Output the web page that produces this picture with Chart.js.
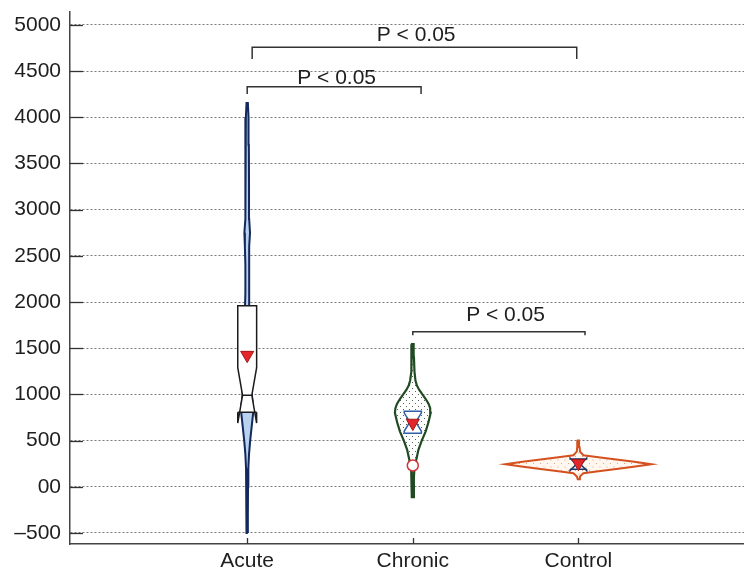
<!DOCTYPE html>
<html>
<head>
<meta charset="utf-8">
<script src="https://cdn.jsdelivr.net/npm/chart.js@4.4.1/dist/chart.umd.min.js"></script>
<style>
  html, body { margin: 0; padding: 0; background: #fff; overflow: hidden; }
  #c { display: block; }
</style>
</head>
<body>
<canvas id="c" width="744" height="571"></canvas>
<script>
// categories and axis ticks
const categories = ['Acute', 'Chronic', 'Control'];
const yTicks = [-500, 0, 500, 1000, 1500, 2000, 2500, 3000, 3500, 4000, 4500, 5000];

// violin profiles: value levels and half-width (density, in category units)
const acuteLevels = [-500, -300, 0, 200, 350, 500, 600, 700, 800, 900, 1000, 1500, 1900, 2100, 2400, 2600, 2750, 2900, 3300, 3700, 4000, 4155];
const acuteWidth  = [0.004, 0.004, 0.005, 0.007, 0.011, 0.018, 0.024, 0.030, 0.036, 0.034, 0.028, 0.028, 0.014, 0.011, 0.011, 0.014, 0.017, 0.012, 0.011, 0.010, 0.008, 0.004];

const chronicLevels = [-114, 0, 100, 200, 250, 300, 400, 500, 600, 700, 800, 850, 900, 950, 1000, 1050, 1100, 1150, 1250, 1400, 1544];
const chronicWidth  = [0.005, 0.006, 0.007, 0.010, 0.016, 0.022, 0.034, 0.054, 0.078, 0.095, 0.108, 0.105, 0.095, 0.078, 0.058, 0.038, 0.024, 0.016, 0.010, 0.007, 0.005];

const controlLevels = [80, 110, 146, 170, 195, 220, 244, 270, 300, 320, 341, 380, 430, 500];
const controlWidth  = [0.004, 0.009, 0.030, 0.133, 0.241, 0.344, 0.440, 0.338, 0.205, 0.121, 0.030, 0.010, 0.007, 0.004];

// notched box summaries per category
const boxQ1      = [807, 580, 190];
const boxMedian  = [990, 700, 240];
const boxQ3      = [1960, 818, 300];
const notchLow   = [690, 600, 175];
const notchHigh  = [1290, 800, 310];
const groupMeans = [1425, 690, 255];
const chronicMarker = [230];

// significance brackets
const bracketFrom  = [1.03, 1.0, 2.0];
const bracketTo    = [2.99, 2.05, 3.04];
const bracketLevel = [4758, 4332, 1677];
const bracketFoot  = [4632, 4252, 1640];
const bracketText  = ['P < 0.05', 'P < 0.05', 'P < 0.05'];
const bracketTextX = [2.02, 1.54, 2.56];
const bracketTextY = [4890, 4425, 1858];

const FONT = '"Liberation Sans", Arial, Helvetica, sans-serif';
const ctx0 = document.getElementById('c').getContext('2d');

function dotPattern(bg, dot, step) {
    const c = document.createElement('canvas');
    c.width = step; c.height = step;
    const g = c.getContext('2d');
    g.fillStyle = bg;
    g.fillRect(0, 0, step, step);
    g.fillStyle = dot;
    g.fillRect(1, 1, 1, 1);
    g.fillRect(step / 2 + 1, step / 2 + 1, 1, 1);
    return ctx0.createPattern(c, 'repeat');
}

function violin(center, levels, widths) {
    const right = levels.map((v, i) => ({ x: center + widths[i], y: v }));
    const left = levels.map((v, i) => ({ x: center - widths[i], y: v })).reverse();
    return right.concat(left, [right[0]]);
}

function boxOutline(i, w, wn) {
    const c = i + 1;
    return [
        { x: c - w, y: boxQ1[i] }, { x: c - w, y: notchLow[i] }, { x: c - wn, y: boxMedian[i] },
        { x: c - w, y: notchHigh[i] }, { x: c - w, y: boxQ3[i] }, { x: c + w, y: boxQ3[i] },
        { x: c + w, y: notchHigh[i] }, { x: c + wn, y: boxMedian[i] }, { x: c + w, y: notchLow[i] },
        { x: c + w, y: boxQ1[i] }
    ];
}

function boxLines(i, w, wn) {
    const c = i + 1;
    return [
        { x: c - w, y: boxQ1[i] }, { x: c + w, y: boxQ1[i] }, { x: c, y: null },
        { x: c - wn, y: boxMedian[i] }, { x: c + wn, y: boxMedian[i] }
    ];
}

const violinStyles = [
    { border: '#13285c', fill: '#b9d2ee', width: 2 },
    { border: '#1f4a22', fill: dotPattern('#ffffff', '#556655', 6), width: 2.2 },
    { border: '#d4501e', fill: dotPattern('#fff7f0', '#e3a47a', 7), width: 2 }
];
const boxStyles = [
    { color: '#1b1b1b', w: 0.057, wn: 0.028 },
    { color: '#2f5fa8', w: 0.052, wn: 0.018 },
    { color: '#1f3566', w: 0.050, wn: 0.014 }
];

const profiles = [[acuteLevels, acuteWidth], [chronicLevels, chronicWidth], [controlLevels, controlWidth]];
const datasets = [];

profiles.forEach((p, i) => {
    const st = violinStyles[i];
    datasets.push({
        label: categories[i] + ' violin',
        data: violin(i + 1, p[0], p[1]),
        borderColor: st.border,
        backgroundColor: st.fill,
        borderWidth: st.width,
        fill: 'shape',
        pointRadius: 0,
        tension: 0,
        order: 10
    });
});

categories.forEach((cat, i) => {
    const bs = boxStyles[i];
    datasets.push({
        label: cat + ' box',
        data: boxOutline(i, bs.w, bs.wn),
        borderColor: bs.color,
        backgroundColor: '#ffffff',
        borderWidth: 1.5,
        fill: 'shape',
        pointRadius: 0,
        tension: 0,
        order: 8
    });
    datasets.push({
        label: cat + ' box lines',
        data: boxLines(i, bs.w, bs.wn),
        borderColor: bs.color,
        borderWidth: 1.5,
        fill: false,
        spanGaps: false,
        pointRadius: 0,
        order: 7
    });
});

bracketFrom.forEach((x0, i) => {
    datasets.push({
        label: 'bracket ' + i,
        data: [
            { x: x0, y: bracketFoot[i] }, { x: x0, y: bracketLevel[i] },
            { x: bracketTo[i], y: bracketLevel[i] }, { x: bracketTo[i], y: bracketFoot[i] }
        ],
        borderColor: '#333333',
        borderWidth: 1.5,
        fill: false,
        pointRadius: 0,
        order: 5
    });
});

datasets.push({
    label: 'Chronic marker',
    data: chronicMarker.map(v => ({ x: 2, y: v })),
    showLine: false,
    pointStyle: 'circle',
    pointRadius: 5.5,
    pointBackgroundColor: '#ffffff',
    pointBorderColor: '#d03535',
    pointBorderWidth: 1.5,
    order: 2
});

datasets.push({
    label: 'Mean',
    data: groupMeans.map((v, i) => ({ x: i + 1, y: v })),
    showLine: false,
    pointStyle: 'triangle',
    rotation: 180,
    pointRadius: 7.5,
    pointBackgroundColor: '#e3262a',
    pointBorderColor: '#a51515',
    pointBorderWidth: 1,
    order: 1
});

const decorations = {
    id: 'decorations',
    afterDraw(chart) {
        const { ctx, chartArea, scales } = chart;
        ctx.save();
        ctx.strokeStyle = '#333333';
        ctx.lineWidth = 1.3;
        // inner tick marks on y axis
        yTicks.forEach(v => {
            const y = Math.round(scales.y.getPixelForValue(v)) + 0.5;
            ctx.beginPath();
            ctx.moveTo(chartArea.left, y);
            ctx.lineTo(chartArea.left + 13, y);
            ctx.stroke();
        });
        // upward ticks on x axis
        categories.forEach((c, i) => {
            const x = Math.round(scales.x.getPixelForValue(i + 1)) + 0.5;
            ctx.beginPath();
            ctx.moveTo(x, chartArea.bottom);
            ctx.lineTo(x, chartArea.bottom - 6);
            ctx.stroke();
        });
        // bracket labels
        ctx.fillStyle = '#1e1e1e';
        ctx.font = '21px ' + FONT;
        ctx.textAlign = 'center';
        ctx.textBaseline = 'middle';
        bracketText.forEach((t, i) => {
            ctx.fillText(t, scales.x.getPixelForValue(bracketTextX[i]), scales.y.getPixelForValue(bracketTextY[i]));
        });
        ctx.restore();
    }
};

function noPad(s) {
    s.paddingTop = 0; s.paddingBottom = 0; s.paddingLeft = 0; s.paddingRight = 0;
}

new Chart(ctx0, {
    type: 'line',
    data: { datasets },
    options: {
        responsive: false,
        maintainAspectRatio: false,
        animation: false,
        devicePixelRatio: 1,
        layout: { autoPadding: false, padding: { top: 12, right: 0, bottom: 0, left: 0 } },
        plugins: {
            legend: { display: false },
            tooltip: { enabled: false }
        },
        scales: {
            x: {
                type: 'linear',
                min: -0.07,
                max: 4,
                afterBuildTicks: s => { s.ticks = categories.map((c, i) => ({ value: i + 1 })); },
                afterFit: s => { s.height = 27; noPad(s); },
                grid: { display: false, drawTicks: false },
                border: { display: true, color: '#444444', width: 1.5 },
                ticks: {
                    padding: 5,
                    color: '#1e1e1e',
                    font: { family: FONT, size: 21 },
                    maxRotation: 0,
                    callback: v => categories[Math.round(v) - 1] || ''
                }
            },
            y: {
                type: 'linear',
                min: -620,
                max: 5140,
                afterBuildTicks: s => { s.ticks = yTicks.map(v => ({ value: v })); },
                afterFit: s => { s.width = 70; noPad(s); },
                grid: { color: '#7a7a7a', lineWidth: 1, drawTicks: false },
                border: { display: true, color: '#444444', width: 1.5, dash: [2, 2] },
                ticks: {
                    padding: 9,
                    color: '#1e1e1e',
                    font: { family: FONT, size: 21 },
                    callback: v => v === 0 ? '00' : (v < 0 ? '\u2013' + Math.abs(v) : String(v))
                }
            }
        }
    },
    plugins: [decorations]
});
</script>
</body>
</html>
